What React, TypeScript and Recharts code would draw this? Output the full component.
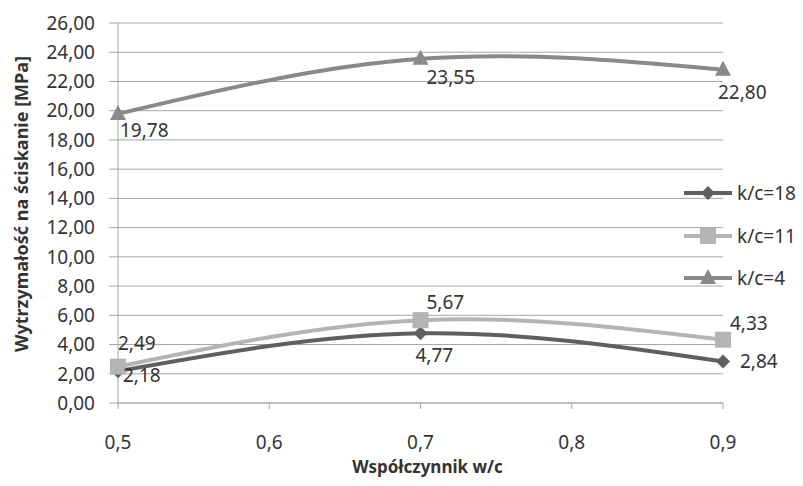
import React from 'react';
import { LineChart, Line, XAxis, YAxis, CartesianGrid, LabelList } from 'recharts';

// w/c ratios and compressive strength per k/c series
const wcValues = [0.5, 0.7, 0.9];
const kc18 = [2.18, 4.77, 2.84];
const kc11 = [2.49, 5.67, 4.33];
const kc4 = [19.78, 23.55, 22.8];

const seriesNames = ['k/c=18', 'k/c=11', 'k/c=4'];
const xTicks = [0.5, 0.6, 0.7, 0.8, 0.9];
const yTicks = [0, 2, 4, 6, 8, 10, 12, 14, 16, 18, 20, 22, 24, 26];

const data = wcValues.map((wc, i) => ({ wc, kc18: kc18[i], kc11: kc11[i], kc4: kc4[i] }));

const FONT = '"Noto Sans", "Open Sans", sans-serif';
const TEXT = '#333333';
const GRID = '#a6a6a6';

const colors = { kc18: '#5f5f5f', kc11: '#b4b4b4', kc4: '#898989' };

// label placement per point (dx, dy from the marker)
const labelOffsets: Record<string, [number, number][]> = {
  kc18: [[5, 4], [-5, 22], [17, 0]],
  kc11: [[0, -24], [6, -18], [7, -17]],
  kc4: [[2, 16], [6, 18], [-5, 22]],
};

const comma = (v: number, d: number) => v.toFixed(d).replace('.', ',');

const Diamond = ({ cx, cy, fill }: any) => (
  <path d={`M${cx},${cy - 7} L${cx + 7},${cy} L${cx},${cy + 7} L${cx - 7},${cy} Z`} fill={fill} />
);
const Square = ({ cx, cy, fill }: any) => (
  <rect x={cx - 8} y={cy - 8} width={16} height={16} fill={fill} />
);
const Triangle = ({ cx, cy, fill }: any) => (
  <path d={`M${cx},${cy - 9} L${cx + 8},${cy + 6} L${cx - 8},${cy + 6} Z`} fill={fill} />
);

const markers: Record<string, any> = { kc18: Diamond, kc11: Square, kc4: Triangle };
const keys = ['kc18', 'kc11', 'kc4'];

const makeLabel = (key: string) => (props: any) => {
  const { x, y, value, index } = props;
  const [dx, dy] = labelOffsets[key][index];
  return (
    <text
      x={x + dx}
      y={y + dy}
      textAnchor="start"
      dominantBaseline="central"
      fontFamily={FONT}
      fontSize={19}
      fill={TEXT}
    >
      {comma(value, 2)}
    </text>
  );
};

const YTitle = (props: any) => {
  const vb = props.viewBox;
  const cx = vb.x + 21;
  const cy = vb.y + vb.height / 2 - 9;
  return (
    <text
      x={cx}
      y={cy}
      transform={`rotate(-90, ${cx}, ${cy})`}
      textAnchor="middle"
      dominantBaseline="central"
      fontFamily={FONT}
      fontSize={18}
      fontWeight="bold"
      fill={TEXT}
    >
      Wytrzymałość na ściskanie  [MPa]
    </text>
  );
};

const XTitle = (props: any) => {
  const vb = props.viewBox;
  return (
    <text
      x={vb.x + vb.width / 2 + 7}
      y={vb.y + 63}
      textAnchor="middle"
      dominantBaseline="central"
      fontFamily={FONT}
      fontSize={17}
      fontWeight="bold"
      fill={TEXT}
    >
      Współczynnik w/c
    </text>
  );
};

const LegendBox = () => (
  <div style={{ position: 'absolute', left: 684, top: 172, fontFamily: FONT, fontSize: 19, color: TEXT }}>
    {keys.map((k, i) => {
      const M = markers[k];
      return (
        <div key={k} style={{ display: 'flex', alignItems: 'center', height: 42.5 }}>
          <svg width={52} height={20}>
            <line x1={0} y1={10} x2={48} y2={10} stroke={colors[k as keyof typeof colors]} strokeWidth={4} />
            <M cx={24} cy={10} fill={colors[k as keyof typeof colors]} />
          </svg>
          <span style={{ marginLeft: 1 }}>{seriesNames[i]}</span>
        </div>
      );
    })}
  </div>
);

export default function App() {
  return (
    <div style={{ position: 'absolute', left: 0, top: 0, width: 803, height: 486, background: '#fff' }}>
      <LineChart width={803} height={486} data={data} margin={{ top: 23, right: 80, bottom: 0, left: 0 }}>
        <CartesianGrid vertical={false} stroke={GRID} strokeWidth={1} />
        <XAxis
          type="number"
          dataKey="wc"
          domain={[0.5, 0.9]}
          ticks={xTicks}
          tickFormatter={(v: number) => comma(v, 1)}
          height={83}
          stroke={GRID}
          tickSize={6}
          tickMargin={27}
          tick={{ fill: TEXT, fontFamily: FONT, fontSize: 19 }}
          label={<XTitle />}
        />
        <YAxis
          type="number"
          domain={[0, 26]}
          ticks={yTicks}
          interval={0}
          tickFormatter={(v: number) => comma(v, 2)}
          width={118}
          stroke={GRID}
          tickSize={9}
          tickMargin={14}
          tick={{ fill: TEXT, fontFamily: FONT, fontSize: 19 }}
          label={<YTitle />}
        />
        {keys.map((k, i) => {
          const M = markers[k];
          const c = colors[k as keyof typeof colors];
          return (
            <Line
              key={k}
              name={seriesNames[i]}
              type="natural"
              dataKey={k}
              stroke={c}
              strokeWidth={4}
              dot={(p: any) => <M key={`${k}-${p.index}`} cx={p.cx} cy={p.cy} fill={c} />}
              activeDot={false}
              isAnimationActive={false}
            >
              <LabelList dataKey={k} content={makeLabel(k)} />
            </Line>
          );
        })}
      </LineChart>
      <LegendBox />
    </div>
  );
}
